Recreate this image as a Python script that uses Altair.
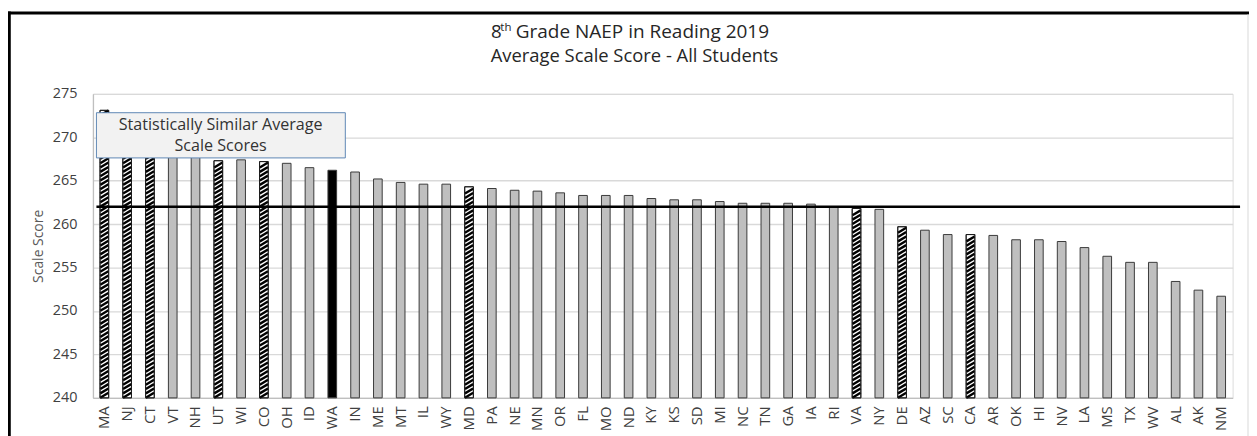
import altair as alt
import pandas as pd

# ---------------- data ----------------
states = ["MA", "NJ", "CT", "VT", "NH", "UT", "WI", "CO", "OH", "ID",
          "WA", "IN", "ME", "MT", "IL", "WY", "MD", "PA", "NE", "MN",
          "OR", "FL", "MO", "ND", "KY", "KS", "SD", "MI", "NC", "TN",
          "GA", "IA", "RI", "VA", "NY", "DE", "AZ", "SC", "CA", "AR",
          "OK", "HI", "NV", "LA", "MS", "TX", "WV", "AL", "AK", "NM"]
scores = [273.1, 272.0, 270.2, 269.0, 268.8, 267.3, 267.4, 267.2, 267.0, 266.5,
          266.2, 266.0, 265.2, 264.8, 264.6, 264.6, 264.3, 264.1, 263.9, 263.8,
          263.6, 263.3, 263.3, 263.3, 262.95, 262.8, 262.8, 262.6, 262.4, 262.4,
          262.4, 262.3, 262.0, 261.8, 261.7, 259.7, 259.3, 258.8, 258.8, 258.7,
          258.2, 258.2, 258.0, 257.3, 256.3, 255.6, 255.6, 253.4, 252.4, 251.7]
similar_states = ["MA", "NJ", "CT", "UT", "CO", "MD", "VA", "DE", "CA"]
highlight_states = ["WA"]
national_average = 262.0
y_ticks = [240, 245, 250, 255, 260, 265, 270, 275]

title_num = "8"
title_sup = "th"
title_rest = "Grade NAEP in Reading 2019"
title_line2 = "Average Scale Score - All Students"
box_line1 = "Statistically Similar Average"
box_line2 = "Scale Scores"
y_title = "Scale Score"

FONT = "Open Sans"

groups = ["similar" if s in similar_states else ("highlight" if s in highlight_states else "other")
          for s in states]
df = pd.DataFrame({"state": states, "score": scores, "group": groups})

W, H = 1147, 306

xenc = alt.X("state:N", sort=states,
             scale=alt.Scale(paddingInner=0.62, paddingOuter=0.31),
             axis=alt.Axis(title=None, labelAngle=270, labelFont=FONT, labelFontSize=15,
                           labelColor="#404040", labelPadding=8, ticks=False,
                           domainColor="#bfbfbf", domainWidth=1.3, grid=False))
yscale = alt.Scale(domain=[240, 275], zero=False, nice=False)
yenc = alt.Y("score:Q", scale=yscale,
             axis=alt.Axis(title=y_title, values=y_ticks, labelFont=FONT, labelFontSize=14.5,
                           labelColor="#404040", labelPadding=16, ticks=False,
                           domainColor="#bfbfbf", domainWidth=1.3,
                           gridColor="#d9d9d9", gridWidth=1.3,
                           titleFont=FONT, titleFontSize=14, titleFontWeight="normal",
                           titleColor="#595959", titlePadding=7))

base = alt.Chart(df)

bars = base.mark_bar(stroke="#3a3a3a", strokeWidth=1).encode(
    x=xenc, y=yenc, y2=alt.datum(240),
    fill=alt.Fill("group:N", scale=alt.Scale(domain=["other", "similar", "highlight"],
                                             range=["#bfbfbf", "#ffffff", "#000000"]),
                  legend=None),
)

stripes = base.transform_filter(
    alt.datum.group == "similar"
).transform_calculate(
    seq="sequence(240.3, datum.score - 0.25, 0.5)"
).transform_flatten(["seq"]).mark_point(
    shape="M-1,0.6L1,-0.6", size=68, filled=False, stroke="black",
    strokeWidth=2.4, opacity=1
).encode(x=alt.X("state:N", sort=states), y=alt.Y("seq:Q", scale=yscale))

outline = base.mark_bar(fillOpacity=0, stroke="#1a1a1a", strokeWidth=1).encode(
    x=alt.X("state:N", sort=states), y=alt.Y("score:Q", scale=yscale), y2=alt.datum(240)
).transform_filter(alt.datum.group == "similar")

one = pd.DataFrame({"k": [0]})

ref_line = alt.Chart(pd.DataFrame({"avg": [national_average]})).mark_rule(
    color="black", strokeWidth=2.5
).encode(y=alt.Y("avg:Q", scale=yscale), x=alt.value(3.5), x2=alt.value(1154.5))

box = alt.Chart(one).mark_rect(fill="#f2f2f2", stroke="#5f87b4", strokeWidth=1).encode(
    x=alt.value(3.5), x2=alt.value(254), y=alt.value(19), y2=alt.value(64.5))


def txt(s, x, y, size, align="left", color="#262626"):
    return alt.Chart(pd.DataFrame({"t": [s]})).mark_text(
        font=FONT, fontSize=size, align=align, baseline="alphabetic", color=color
    ).encode(text="t:N", x=alt.value(x), y=alt.value(y))


box_t1 = txt(box_line1, 128.5, 36.5, 16.2, "center", "#333333")
box_t2 = txt(box_line2, 128.5, 58, 16.2, "center", "#333333")

t_num = txt(title_num, 400.5, -56.3, 18.8)
t_sup = txt(title_sup, 410, -63, 11.5)
t_rest = txt(title_rest, 425.5, -56.3, 19.1)
t_line2 = txt(title_line2, 545, -32.3, 18.5, "center")

border_top = alt.Chart(one).mark_rule(color="black", strokeWidth=3).encode(
    x=alt.value(-85.5), x2=alt.value(1163.5), y=alt.value(-81.3))
border_left = alt.Chart(one).mark_rule(color="black", strokeWidth=3).encode(
    x=alt.value(-84.2), y=alt.value(-82.8), y2=alt.value(345))
border_right = alt.Chart(one).mark_rule(color="#d9d9d9", strokeWidth=1).encode(
    x=alt.value(1162.5), y=alt.value(-80), y2=alt.value(345))

chart = alt.layer(
    bars, stripes, outline, ref_line, box, box_t1, box_t2,
    t_num, t_sup, t_rest, t_line2, border_top, border_left, border_right
).properties(
    width=W, height=H,
    autosize=alt.AutoSizeParams(type="none"),
    padding={"left": 85.5, "top": 85, "right": 16.5, "bottom": 37},
).configure_view(strokeWidth=0).configure(background="white")

chart.save("out.html", embed_options={"renderer": "svg", "actions": False})
